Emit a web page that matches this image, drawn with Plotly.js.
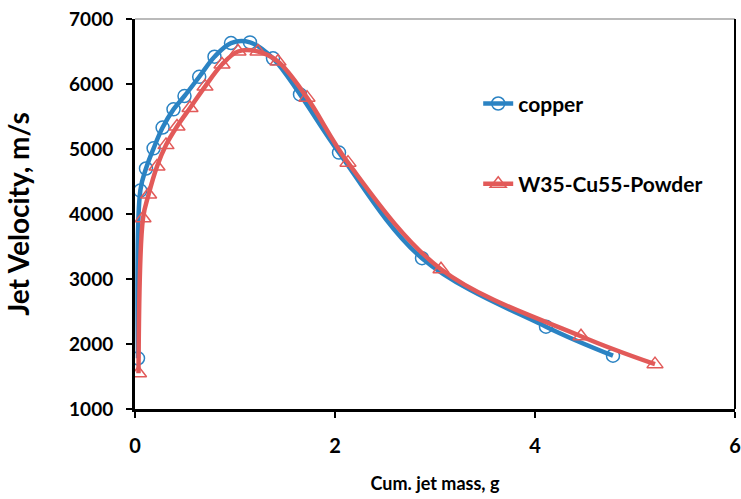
<!DOCTYPE html>
<html>
<head>
<meta charset="utf-8">
<script src="https://cdn.plot.ly/plotly-3.0.1.min.js"></script>
<style>html,body{margin:0;padding:0;background:#fff;}#chart{width:741px;height:499px;}</style>
</head>
<body>
<div id="chart"></div>
<script>
const copperX = [0.03, 0.053, 0.11, 0.186, 0.276, 0.385, 0.495, 0.642, 0.795, 0.96, 1.15, 1.38, 1.65, 2.04, 2.87, 4.11, 4.78];
const copperY = [1780, 4360, 4700, 5010, 5330, 5610, 5815, 6110, 6420, 6630, 6640, 6395, 5840, 4945, 3320, 2266, 1820];
const powderX = [0.035, 0.08, 0.136, 0.22, 0.31, 0.42, 0.55, 0.70, 0.87, 1.03, 1.23, 1.43, 1.72, 2.13, 3.06, 4.46, 5.20];
const powderY = [1550, 3935, 4300, 4730, 5060, 5345, 5630, 5960, 6300, 6500, 6500, 6345, 5790, 4790, 3150, 2120, 1690];
const seriesNames = ["copper", "W35-Cu55-Powder"];
const xTicks = [0, 2, 4, 6];
const yTicks = [1000, 2000, 3000, 4000, 5000, 6000, 7000];

const blue = "#2b83c3";
const red = "#e25a59";
const fontFam = "Lato, 'Open Sans', sans-serif";

const traces = [
  {
    x: copperX, y: copperY, name: seriesNames[0], type: "scatter", mode: "lines+markers",
    legendgroup: "a",
    line: {color: blue, width: 4.5, shape: "spline", smoothing: 1},
    marker: {symbol: "circle-open", size: 13, color: blue, line: {width: 1.5, color: blue}}
  },
  {
    x: powderX, y: powderY, name: seriesNames[1], type: "scatter", mode: "lines+markers",
    legendgroup: "b",
    line: {color: red, width: 4.5, shape: "spline", smoothing: 1},
    marker: {symbol: "triangle-up-open", size: 14, color: red, line: {width: 1.5, color: red}}
  }
];

const layout = {
  width: 741, height: 499,
  margin: {l: 135, r: 6, t: 19, b: 90},
  paper_bgcolor: "#fff", plot_bgcolor: "#fff",
  font: {family: fontFam, color: "#000"},
  showlegend: true,
  legend: {
    x: 0.572, y: 0.835, xanchor: "left", yanchor: "top",
    traceorder: "grouped", tracegroupgap: 50,
    font: {family: fontFam, size: 21, weight: "bold", color: "#000"},
    bgcolor: "rgba(0,0,0,0)"
  },
  xaxis: {
    range: [0, 6], tickvals: xTicks, ticktext: xTicks.map(String),
    showgrid: false, zeroline: false,
    showline: true, linecolor: "#000", linewidth: 3,
    ticks: "outside", ticklen: 6, tickwidth: 2.5, tickcolor: "#000",
    ticklabelstandoff: 11,
    tickfont: {family: fontFam, size: 20, weight: "bold", color: "#000"},
    title: {text: "Cum. jet mass, g", font: {family: fontFam, size: 18, weight: "bold", color: "#000"}, standoff: 22}
  },
  yaxis: {
    range: [1000, 7000], tickvals: yTicks, ticktext: yTicks.map(String),
    showgrid: false, zeroline: false,
    showline: true, linecolor: "#000", linewidth: 3,
    ticks: "outside", ticklen: 6, tickwidth: 2.5, tickcolor: "#000",
    ticklabelstandoff: 9,
    tickfont: {family: fontFam, size: 19, weight: "bold", color: "#000"},
    title: {text: "Jet Velocity, m/s", font: {family: fontFam, size: 28, weight: "bold", color: "#000"}, standoff: 32}
  },
  shapes: [
    {type: "line", xref: "paper", yref: "paper", x0: 0, x1: 1, y0: 1, y1: 1, line: {color: "#777", width: 1.2}},
    {type: "line", xref: "paper", yref: "paper", x0: 1, x1: 1, y0: 0, y1: 1, line: {color: "#000", width: 2}}
  ]
};

Plotly.newPlot("chart", traces, layout, {staticPlot: true, displayModeBar: false});
</script>
</body>
</html>
